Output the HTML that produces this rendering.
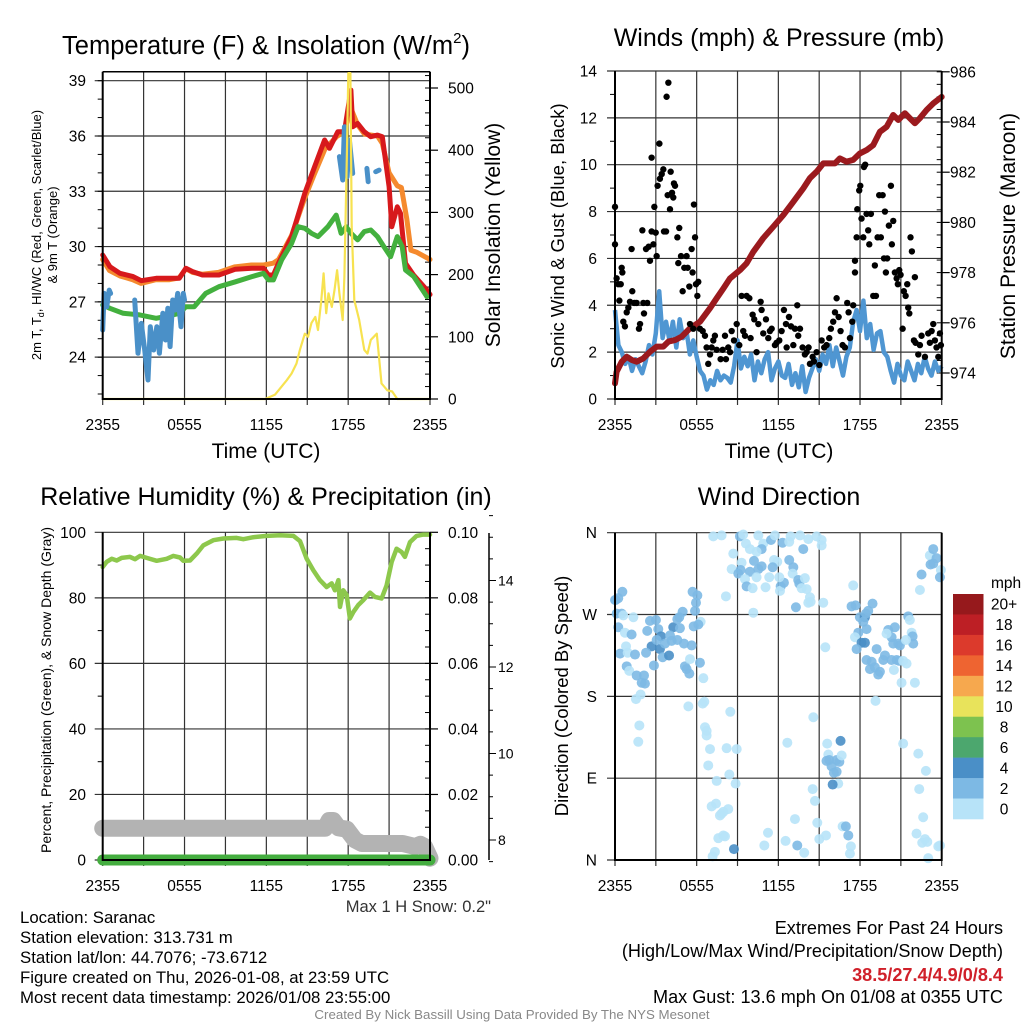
<!DOCTYPE html>
<html><head><meta charset="utf-8">
<style>
html,body{margin:0;padding:0;background:#fff;}
svg{display:block;font-family:"Liberation Sans",Arial,sans-serif;}
</style></head>
<body>
<svg id="fig" width="1024" height="1024" viewBox="0 0 1024 1024" xmlns="http://www.w3.org/2000/svg">
<rect width="1024" height="1024" fill="#fff"/>
<!-- titles -->
<text x="266" y="54" font-size="25.5" text-anchor="middle">Temperature (F) &amp; Insolation (W/m<tspan font-size="15" dy="-11">2</tspan><tspan dy="11">)</tspan></text>
<text x="779" y="46" font-size="25" text-anchor="middle">Winds (mph) &amp; Pressure (mb)</text>
<text x="266" y="505" font-size="25" text-anchor="middle">Relative Humidity (%) &amp; Precipitation (in)</text>
<text x="779" y="505" font-size="25" text-anchor="middle">Wind Direction</text>
<!-- axis titles -->
<text transform="translate(41,235) rotate(-90)" font-size="13" text-anchor="middle">2m T, T<tspan font-size="9" dy="3">d</tspan><tspan dy="-3">, HI/WC (Red, Green, Scarlet/Blue)</tspan></text>
<text transform="translate(57,235) rotate(-90)" font-size="13" text-anchor="middle">&amp; 9m T (Orange)</text>
<text transform="translate(500,235) rotate(-90)" font-size="21" text-anchor="middle">Solar Insolation (Yellow)</text>
<text transform="translate(564,236) rotate(-90)" font-size="18.5" text-anchor="middle">Sonic Wind &amp; Gust (Blue, Black)</text>
<text transform="translate(1015,236) rotate(-90)" font-size="21" text-anchor="middle">Station Pressure (Maroon)</text>
<text transform="translate(51,690) rotate(-90)" font-size="14" text-anchor="middle">Percent, Precipitation (Green), &amp; Snow Depth (Gray)</text>
<text transform="translate(568,696) rotate(-90)" font-size="18.5" text-anchor="middle">Direction (Colored By Speed)</text>
<text x="266" y="458" font-size="21" text-anchor="middle">Time (UTC)</text>
<text x="779" y="458" font-size="21" text-anchor="middle">Time (UTC)</text>
<!-- footer text -->
<text x="491" y="912" font-size="16.5" text-anchor="end" fill="#333">Max 1 H Snow: 0.2"</text>
<g font-size="16.8">
<text x="20" y="923">Location: Saranac</text>
<text x="20" y="943">Station elevation: 313.731 m</text>
<text x="20" y="963">Station lat/lon: 44.7076; -73.6712</text>
<text x="20" y="983">Figure created on Thu, 2026-01-08, at 23:59 UTC</text>
<text x="20" y="1003">Most recent data timestamp: 2026/01/08 23:55:00</text>
</g>
<g font-size="18.1" text-anchor="end">
<text x="1003" y="934">Extremes For Past 24 Hours</text>
<text x="1003" y="957">(High/Low/Max Wind/Precipitation/Snow Depth)</text>
<text x="1003" y="981" fill="#d0202a" font-weight="bold">38.5/27.4/4.9/0/8.4</text>
<text x="1003" y="1003">Max Gust: 13.6 mph On 01/08 at 0355 UTC</text>
</g>
<text x="512" y="1019" font-size="13.3" fill="#888" text-anchor="middle">Created By Nick Bassill Using Data Provided By The NYS Mesonet</text>
</svg>
<script>
// ---------------- DATA ----------------
const xTickHours = [0, 6, 12, 18, 24];
const xTickLabels = ["2355", "0555", "1155", "1755", "2355"];
// Temperature panel
const redTime = [0,.53,1.26,2.23,2.83,3.92,4.89,5.62,6.1,6.59,7.31,8.52,9.73,10.94,11.79,12.15,12.52,12.88,13.85,14.82,15.54,16.27,16.63,17.24,17.72,17.97,18.2,18.33,18.69,19.18,19.66,20.15,20.5,21.0,21.2,21.6,21.84,22.2,22.8,23.78,24];
const redTemp = [29.54,28.91,28.55,28.37,28.15,28.28,28.28,28.28,28.82,28.64,28.46,28.46,28.77,28.82,28.82,28.46,28.46,29.09,30.54,32.89,34.33,35.78,35.33,36.23,36.23,37.41,38.49,36.5,36.68,36.23,35.96,36.05,35.96,33.25,31.08,32.16,31.8,29.09,28.46,27.64,27.4];
const orangeTime = [0,.5,1.3,2.2,2.8,3.9,4.9,5.6,6.1,6.6,7.3,8.5,9.7,10.9,11.8,12.5,12.9,13.85,14.8,15.5,16.3,17.2,17.7,18.2,18.7,19.2,20.15,20.5,21.0,21.6,21.9,22.3,22.6,23.0,24];
const orangeTemp = [29.3,28.7,28.4,28.2,28.0,28.2,28.2,28.3,28.8,28.6,28.5,28.6,28.9,29.0,29.0,29.1,29.3,30.6,32.6,33.9,35.3,36.0,36.2,37.5,36.6,36.1,36.0,35.6,34.0,33.3,33.2,31.5,29.8,29.7,29.3];
const greenTime = [0,.53,1.5,2.71,3.92,5.13,5.62,6.1,6.71,7.55,8.52,9.73,10.94,11.79,12.15,12.52,13.12,13.85,14.33,14.82,15.3,15.79,16.51,17.12,17.48,17.85,18.21,18.69,19.18,19.66,20.15,20.63,21.11,21.6,21.96,22.2,22.81,23.78];
const greenTemp = [26.83,26.65,26.38,26.29,26.11,26.29,26.38,26.74,26.74,27.46,27.82,28.09,28.37,28.55,28.19,28.19,29.27,30.17,31.08,30.99,30.72,30.54,31.08,31.71,30.72,31.08,30.72,30.36,30.81,30.9,30.54,29.99,29.45,30.54,29.99,28.73,28.37,27.28];
const blueTime = [0,.1,.29,.48,.58,null,2.35,2.59,2.83,3.08,3.32,3.49,3.73,3.97,4.16,4.41,4.6,4.77,4.94,5.13,5.33,5.5,5.74,5.91,6.0,null,17.36,17.6,17.72,17.92,18.09,18.33,null,19.37,19.47,null,20.02,20.27];
const blueTemp = [25.47,27.46,26.74,27.64,27.46,null,27.1,24.21,25.83,24.39,22.76,25.65,24.39,25.65,24.21,26.38,24.93,26.65,24.57,27.1,26.56,27.46,25.65,27.46,27.1,null,34.88,33.61,36.5,33.79,35.78,33.97,null,34.24,33.52,null,34.06,34.15];
const solarTime = [0,11.91,12.64,13.12,13.49,13.85,14.21,14.46,14.82,15.06,15.3,15.59,15.79,16.03,16.2,16.39,16.56,16.8,17.0,17.19,17.36,17.6,17.72,17.92,18.01,18.16,18.26,18.45,18.81,19.18,19.42,19.66,20.1,20.44,20.87,21.23,21.6,24];
const solarWm2 = [0,0,7,20,30,41,57,79,105,100,122,132,111,159,202,138,170,148,175,207,170,127,197,411,524,524,277,159,127,79,73,95,105,25,14,12,0,0];
const tempTicks = [24, 27, 30, 33, 36, 39];
const solarTicks = [0, 100, 200, 300, 400, 500];
// Winds panel
const windSpeed = [3.8,2.3,2.0,1.5,1.8,1.2,1.7,1.4,1.1,1.6, 2.3,1.9,2.8,4.6,2.6,3.3,2.5,3.3,2.2,3.4, 2.6,2.9,1.9,2.5,1.8,1.2,1.0,0.4,0.8,0.6, 1.2,0.8,1.0,0.9,0.7,1.4,2.5,1.3,1.8,1.4, 1.9,0.8,1.6,1.1,1.7,2.0,0.8,1.3,1.6,1.0, 0.9,1.5,0.6,1.1,0.5,1.4,0.3,0.9,1.3,1.7, 1.2,1.9,1.5,2.3,1.4,2.2,1.6,1.0,1.8,2.2, 3.3,3.8,2.9,4.2,2.6,3.2,2.1,2.8,2.9,2.0, 1.8,1.2,0.7,1.5,1.0,0.8,1.6,1.2,0.8,1.5, 1.1,1.8,1.3,1.0,1.6,1.2,1.4];
const windStepHours = 0.25;
const gustTime = [0,0,.12,.24,.42,.49,.54,.32,.61,.73,.86,.98,1.1,1.22,1.27,1.42,1.59,1.76,1.84,2.01,2.08,2.13,2.28,2.37,2.47,2.57,2.69,2.69,2.82,2.89,2.99,3.06,3.13,3.26,3.3,3.43,3.55,3.6,3.75,3.79,3.92,3.87,4.09,4.04,4.19,4.28,4.33,4.41,4.58,4.72,4.65,4.85,4.97,5.09,5.26,5.34,5.46,5.63,5.7,5.8,5.88,5.95,6.05,6.12,5.51,5.75,6.24,6.44,6.61,6.73,6.85,6.98,7.1,7.22,7.34,7.47,7.76,7.91,8.08,8.15,8.32,8.45,8.57,8.74,8.94,9.13,9.3,9.42,9.55,9.67,9.87,9.96,10.11,10.23,10.4,10.53,10.7,10.77,10.89,11.09,11.26,11.38,11.51,11.75,11.87,12.07,12.24,12.41,12.56,12.61,12.78,12.93,13.1,13.22,13.39,13.46,13.59,13.78,13.95,14.08,14.22,14.32,14.52,14.61,14.81,15.01,15.18,15.37,15.54,15.74,15.86,16.03,16.16,16.28,16.43,16.57,16.72,16.89,17.06,17.16,17.26,17.43,17.5,17.63,17.63,17.75,17.8,17.94,18.02,18.11,18.24,18.29,18.38,18.48,18.6,18.68,18.8,18.97,19.09,19.17,19.29,19.41,19.53,19.66,19.76,19.83,19.9,20.0,20.12,20.27,20.34,20.44,20.56,20.69,20.78,20.88,20.98,21.13,21.22,21.35,21.47,21.54,21.62,21.71,21.81,22.03,21.96,22.08,22.28,22.4,22.52,22.77,23.01,23.13,23.26,23.38,23.5,23.62,23.75,23.87,23.94];
const gustSpeed = [8.2,6.6,5.15,4.9,4.9,5.6,5.4,4.2,3.3,3.1,3.7,3.9,4.15,6.4,4.6,4.1,4.1,3.0,3.2,7.2,4.1,3.65,6.4,4.1,6.5,5.9,10.3,7.15,6.6,8.2,7.1,6.1,9.1,10.9,9.4,9.6,9.8,7.15,7.15,12.9,13.5,8.7,9.7,8.1,8.8,8.6,9.2,9.1,6.9,7.3,5.8,6.1,4.6,5.6,6.1,5.6,4.8,6.4,5.4,8.3,6.9,4.9,4.4,5.0,3.2,3.0,3.0,2.9,2.7,2.2,1.5,1.9,2.2,2.5,2.7,2.1,1.7,2.1,2.7,1.7,2.2,2.0,2.9,2.5,3.2,2.3,4.4,2.9,2.7,4.4,4.3,2.6,3.6,3.4,2.0,3.2,4.15,3.8,2.8,3.4,2.6,2.9,3.0,2.3,2.4,2.5,2.9,3.8,3.2,2.2,3.5,3.1,2.3,3.0,4.0,2.7,3.0,2.2,1.9,2.0,2.2,1.5,1.8,1.6,2.0,1.45,2.5,2.2,2.3,2.6,3.0,3.3,3.7,4.3,3.5,2.9,2.3,2.2,4.1,3.7,2.6,3.3,4.0,5.4,5.9,6.9,8.1,8.9,9.1,7.7,6.9,9.9,10.0,7.9,7.2,6.6,7.9,4.4,5.7,4.4,6.9,8.7,6.9,8.7,6.0,8.0,5.4,6.0,7.4,9.1,6.6,7.6,5.4,5.15,4.9,5.5,5.3,3.0,4.6,4.4,4.9,3.9,3.65,6.9,6.3,5.2,2.5,2.4,1.9,2.3,2.7,1.8,2.8,2.4,2.9,3.2,2.5,2.2,1.8,2.8,2.3];
const pressTime = [0,.12,.49,.86,1.22,1.59,2.08,2.57,3.06,3.55,3.92,4.41,4.9,5.51,6.24,6.98,7.47,7.96,8.45,9.18,9.67,10.16,10.89,11.63,12.36,13.1,13.83,14.32,14.81,15.3,15.79,16.16,16.52,17.01,17.5,17.99,18.48,18.97,19.46,19.95,20.44,20.81,21.3,21.66,22.03,22.4,22.89,23.38,24];
const pressMb = [973.59,974.05,974.45,974.65,974.52,974.45,974.58,974.85,975.05,975.05,975.25,975.31,975.45,975.78,976.04,976.58,976.98,977.37,977.77,978.1,978.37,978.83,979.37,979.83,980.29,980.82,981.36,981.76,982.02,982.35,982.35,982.35,982.55,982.42,982.49,982.75,982.88,983.08,983.61,983.81,984.28,984.08,984.35,984.15,983.95,984.15,984.48,984.74,985.0];
const windTicks = [0, 2, 4, 6, 8, 10, 12, 14];
const pressTicks = [974, 976, 978, 980, 982, 984, 986];
// Humidity panel
const rhTime = [0,.29,.66,1.03,1.39,2.0,2.37,2.74,3.23,3.96,4.69,5.18,5.67,5.91,6.4,6.89,7.38,8.11,8.85,9.82,10.31,11.05,12.02,13.0,13.98,14.47,14.96,15.44,15.93,16.42,16.79,17.03,17.28,17.4,17.64,17.89,18.13,18.38,18.74,19.11,19.6,19.97,20.45,20.82,21.19,21.55,21.92,22.16,22.53,23.02,23.51,24];
const rhPct = [89.4,91.0,91.9,91.4,92.2,92.5,91.8,92.8,92.2,91.3,91.9,92.8,92.3,91.3,91.4,93.5,96.0,97.6,98.1,98.3,97.9,98.5,98.9,99.1,98.9,97.3,91.9,88.4,85.4,83.3,84.4,82.3,85.4,77.2,82.3,80.8,73.7,75.7,77.8,79.3,81.6,80.3,79.8,83.8,91.0,95.0,94.0,92.5,97.0,98.9,99.3,99.3];
const precipTime = [0, 24];
const precipIn = [0, 0];
const snowTime = [0,16.3,16.6,16.9,17.3,17.9,18.5,19.0,22.0,22.9,23.3,23.6,24];
const snowIn = [8.27,8.27,8.45,8.45,8.28,8.25,8.0,7.92,7.92,7.85,7.9,7.85,7.58];
const rhTicks = [0, 20, 40, 60, 80, 100];
const precipTicks = [0, 0.02, 0.04, 0.06, 0.08, 0.10];
const snowTicks = [8, 10, 12, 14];
// Wind direction panel
const dirTime = [0,.05,.24,.54,.12,.49,.61,1.35,.24,.73, 1.22,.81,.37,.93,1.47,.86,1.05,1.59,2.13,1.96, 2.2,1.54,1.88,1.79,1.71,2.57,3.01,2.37,3.18,3.38, 2.69,3.06,3.3,3.67,3.5,3.97,4.28,4.04,4.58,4.72, 4.97,4.77,4.58,5.07,4.16,2.86,2.28,5.14,5.26,5.46, 5.51,5.63,5.7,6.05,5.95,5.88,6.29,6.12,5.78,6.24, 6.49,5.39,
 7.22,7.83,8.69,9.18,9.42,9.62,9.91,10.53,10.89,10.77, 10.4,11.46,11.75,12.31,12.8,12.9,13.59,14.2,13.83,14.81, 15.18,15.18,11.68,11.92,12.8,13.1,13.05,13.46,13.54,13.95, 14.08,13.71,14.32,14.2,14.37,13.29,12.17,12.12,12.41,12.07, 11.58,10.77,10.53,9.91,10.21,9.3,8.57,9.06,9.23,9.55, 9.67,10.11,10.4,11.06,11.33,10.16,8.15,15.3,
 6.44,6.56,6.61,6.73,6.73,6.98,6.85,7.47,7.1,7.42, 7.83,7.96,7.71,8.32,7.59,7.96,8.08,7.17,7.34,8.2, 8.4,8.94,8.86,8.47,8.74,10.97,11.24,12.53,12.66,13.22, 13.39,13.9,14.57,14.52,14.69,14.86,15.01,15.5,15.45,15.59, 15.67,15.74,15.91,16.08,16.28,16.48,16.57,16.65,16.28,16.4, 15.99,16.72,16.96,17.14,17.33,17.26,15.54,
 17.5,17.38,17.67,17.99,18.36,18.43,18.6,18.92,18.24,18.48, 17.87,17.63,18.11,18.36,17.75,19.22,18.48,18.85,18.73,19.09, 19.34,19.46,19.71,19.83,20.07,20.32,20.56,19.95,20.44,20.81, 20.93,20.69,20.88,20.32,20.49,21.17,21.42,21.05,22.03,21.54, 21.66,21.79,21.86,21.91,21.37,19.14,21.17,22.28,22.84,22.35, 22.64,22.15,22.57,22.77,22.94,23.01,23.75,23.87,22.4,22.52, 23.13,23.38,23.62,23.18,23.38,23.94,23.87];
const dirDeg = [286,286,288,295,271,271,269,267,256,250, 248,235,227,228,226,213,208,203,203,195, 194,177,182,148,130,263,264,252,254,246, 235,242,232,238,223,225,256,247,265,267, 273,255,242,238,241,214,228,213,210,205, 221,236,295,291,283,274,262,259,257,217, 200,169,
 356,357,337,356,358,348,342,357,348,342, 339,352,357,349,350,356,357,353,342,356, 352,346,330,328,330,322,315,308,304,310, 298,299,289,283,284,278,301,296,305,311, 322,323,320,317,329,327,320,315,319,309, 301,299,311,300,311,272,290,283,
 172,174,146,142,137,122,104,87,59,62, 51,53,49,56,24,27,26,4,9,123, 94,122,84,163,12,16,30,21,129,45, 16,8,157,78,65,41,23,27,234,128, 116,110,103,96,110,108,131,115,97,84, 83,37,37,27,15,7,109,
 302,279,280,267,267,271,274,282,262,254, 250,245,239,239,232,232,220,218,210,212, 204,207,220,225,253,245,256,249,238,238, 236,220,219,220,209,219,216,195,195,268, 264,250,246,238,242,175,128,117,98,78, 47,29,19,23,20,2,15,16,297,314, 335,342,332,325,326,319,311];
const dirSpeed = [3,3,3,3,3,3,1,1,3,1, 3,1,3,1,3,3,1,3,3,3, 3,1,1,1,1,3,3,3,3,5, 5,3,5,3,3,5,5,3,3,3, 3,3,3,3,3,3,3,3,3,3, 1,3,3,3,3,3,1,3,3,3, 1,1,
 1,1,1,3,1,1,1,1,1,3, 1,3,1,3,1,1,1,1,3,1, 1,1,1,1,3,3,1,3,3,1, 1,1,1,1,1,3,3,1,3,1, 3,3,3,3,3,1,1,3,3,1, 3,1,1,1,1,1,1,1,
 1,1,1,1,1,1,1,1,1,1, 1,1,1,1,1,1,1,1,1,1, 1,1,1,1,5,1,1,1,1,1, 3,1,1,1,1,1,1,1,1,1, 1,3,3,3,3,3,5,1,3,1, 5,1,3,3,1,1,3,
 1,3,3,3,5,3,3,3,3,3, 3,1,5,5,3,3,3,3,3,3, 3,3,3,3,3,3,3,1,3,3, 3,3,3,3,1,1,1,1,1,3, 1,1,3,3,1,1,1,1,1,1, 1,1,1,1,1,1,1,1,1,3, 1,3,3,3,3,1,3];
const dirTicks = [0, 90, 180, 270, 360];
const dirLabels = ["N", "E", "S", "W", "N"];
const cbarLabels = ["20+", "18", "16", "14", "12", "10", "8", "6", "4", "2", "0"];
const cbarColors = ["#96191c", "#bd1f25", "#dc3a2c", "#ee6431", "#f6a84e", "#e8e35b", "#7dc24f", "#4ca76e", "#4a8fc7", "#7db9e4", "#b7e3f8"];

// ---------------- SCALES ----------------
const svg = document.getElementById('fig');
const NS = 'http://www.w3.org/2000/svg';
const L = {tx0: 102.7, tx1: 430, wx0: 615, wx1: 941.7};
const xT = h => L.tx0 + h * (L.tx1 - L.tx0) / 24;
const xW = h => L.wx0 + h * (L.wx1 - L.wx0) / 24;
const yTemp = v => 80.7 + (39 - v) * 18.43;
const ySolar = w => 399 - w * 0.622;
const yWind = v => 399 - v * 23.43;
const yPress = p => 373 - (p - 974) * 25.1;
const yRH = v => 860 - v * 3.277;
const yPrecip = v => 860 - v * 3277;
const ySnow = s => 840 - (s - 8) * 43.25;
const yDir = d => 860 - d * 327.3 / 360;
function mk(tag, attrs, parent) {
  const el = document.createElementNS(NS, tag);
  for (const k in attrs) el.setAttribute(k, attrs[k]);
  (parent || svg).appendChild(el);
  return el;
}
function pathFrom(ts, vs, fx, fy) {
  let d = '', pen = false;
  for (let i = 0; i < Math.min(ts.length, vs.length); i++) {
    if (ts[i] === null || vs[i] === null) { pen = false; continue; }
    d += (pen ? 'L' : 'M') + fx(ts[i]).toFixed(1) + ',' + fy(vs[i]).toFixed(1);
    pen = true;
  }
  return d;
}
function gridAndFrame(name, x0, x1, y0, y1, fx, fy, yTicks, xLabelY) {
  const g = mk('g', {});
  
  
  for (let h = 0; h <= 24; h += 3) {
    const ln = mk('line', {x1: fx(h), x2: fx(h), y1: y0, y2: y1 + 6, stroke: '#333', 'stroke-width': 1.2}, g);
    
    
  }
  yTicks.forEach(t => {
    const ln = mk('line', {x1: x0 - 8, x2: x1, y1: fy(t), y2: fy(t), stroke: '#333', 'stroke-width': 1.2}, g);
    
    
  });
  xTickHours.forEach((h, i) => {
    const tx = mk('text', {x: fx(h), y: xLabelY, 'font-size': 15.5, 'text-anchor': 'middle'});
    tx.textContent = xTickLabels[i];
    
    
  });
}
function frame(name, x0, x1, y0, y1) {
  const r = mk('path', {d: `M${x0},${y0}V${y1}H${x1}V${y0}`, fill: 'none', stroke: '#000', 'stroke-width': 2});
  
  
}

// ============ TEMPERATURE PANEL ============
gridAndFrame('temperature', L.tx0, L.tx1, 71.7, 399, xT, yTemp, tempTicks, 430);
const topLine = mk('line', {x1: L.tx0, x2: L.tx1, y1: 71.7, y2: 71.7, stroke: '#000', 'stroke-width': 1.5});


tempTicks.forEach(t => {
  const tx = mk('text', {x: 86, y: yTemp(t) + 5.5, 'font-size': 15.5, 'text-anchor': 'end'});
  tx.textContent = t;
  
  
});
for (let t = 22; t <= 39; t++) {
  const m = mk('line', {x1: L.tx0 - 5, x2: L.tx0, y1: yTemp(t), y2: yTemp(t), stroke: '#000'});
  
  
}
solarTicks.forEach(t => {
  const tk = mk('line', {x1: L.tx1, x2: L.tx1 + 8, y1: ySolar(t), y2: ySolar(t), stroke: '#000', 'stroke-width': 1.2});
  
  
  const tx = mk('text', {x: 448, y: ySolar(t) + 5.5, 'font-size': 15.5});
  tx.textContent = t;
  
  
});
for (let w = 20; w <= 520; w += 20) {
  const m = mk('line', {x1: L.tx1 - 5, x2: L.tx1, y1: ySolar(w), y2: ySolar(w), stroke: '#000'});
  
  
}
let p;
p = mk('path', {d: pathFrom(orangeTime, orangeTemp, xT, yTemp), fill: 'none', stroke: '#f58a2e', 'stroke-width': 5, 'stroke-linejoin': 'round', 'stroke-linecap': 'round'});


p = mk('path', {d: pathFrom(redTime, redTemp, xT, yTemp), fill: 'none', stroke: '#d7191c', 'stroke-width': 5, 'stroke-linejoin': 'round', 'stroke-linecap': 'round'});


p = mk('path', {d: pathFrom(greenTime, greenTemp, xT, yTemp), fill: 'none', stroke: '#43b03e', 'stroke-width': 5, 'stroke-linejoin': 'round', 'stroke-linecap': 'round'});


p = mk('path', {d: pathFrom(blueTime, blueTemp, xT, yTemp), fill: 'none', stroke: '#4a90c8', 'stroke-width': 5, 'stroke-linejoin': 'round', 'stroke-linecap': 'round'});


p = mk('path', {d: pathFrom(solarTime, solarWm2, xT, ySolar), fill: 'none', stroke: '#f7e250', 'stroke-width': 2.2, 'stroke-linejoin': 'round'});


frame('temperature', L.tx0, L.tx1, 71.7, 399);

// ============ WINDS PANEL ============
gridAndFrame('winds', L.wx0, L.wx1, 71, 399, xW, yWind, windTicks, 430);
windTicks.forEach(t => {
  const tx = mk('text', {x: 597, y: yWind(t) + 5.5, 'font-size': 15.5, 'text-anchor': 'end'});
  tx.textContent = t;
  
  
});
for (let v = 1; v <= 13; v += 2) {
  const m = mk('line', {x1: L.wx0 - 5, x2: L.wx0, y1: yWind(v), y2: yWind(v), stroke: '#000'});
  
  
}
pressTicks.forEach(t => {
  const tk = mk('line', {x1: L.wx1, x2: L.wx1 + 8, y1: yPress(t), y2: yPress(t), stroke: '#000', 'stroke-width': 1.2});
  
  
  const tx = mk('text', {x: 950, y: yPress(t) + 5.5, 'font-size': 15.5});
  tx.textContent = t;
  
  
});
for (let pm = 973.5; pm <= 986; pm += 0.5) {
  const m = mk('line', {x1: L.wx1 - 5, x2: L.wx1, y1: yPress(pm), y2: yPress(pm), stroke: '#000'});
  
  
}
const windTime = windSpeed.map((_, i) => i * windStepHours);
p = mk('path', {d: pathFrom(windTime, windSpeed, xW, yWind), fill: 'none', stroke: '#4f96d2', 'stroke-width': 4.5, 'stroke-linejoin': 'round'});


p = mk('path', {d: pathFrom(pressTime, pressMb, xW, yPress), fill: 'none', stroke: '#9b1a1e', 'stroke-width': 6, 'stroke-linejoin': 'round', 'stroke-linecap': 'round'});


const gustG = mk('g', {fill: '#000'});


for (let i = 0; i < Math.min(gustTime.length, gustSpeed.length); i++) {
  const c = mk('circle', {cx: xW(gustTime[i]), cy: yWind(gustSpeed[i]), r: 3.2}, gustG);
  
  
}
frame('winds', L.wx0, L.wx1, 71, 399);

// ============ HUMIDITY PANEL ============
gridAndFrame('humidity', L.tx0, L.tx1, 532.3, 860, xT, yRH, rhTicks, 891);
rhTicks.forEach(t => {
  const tx = mk('text', {x: 86, y: yRH(t) + 5.5, 'font-size': 15.5, 'text-anchor': 'end'});
  tx.textContent = t;
  
  
});
for (let v = 10; v <= 90; v += 20) {
  const m = mk('line', {x1: L.tx0 - 5, x2: L.tx0, y1: yRH(v), y2: yRH(v), stroke: '#000'});
  
  
}
precipTicks.forEach(t => {
  const tk = mk('line', {x1: L.tx1, x2: L.tx1 + 8, y1: yPrecip(t), y2: yPrecip(t), stroke: '#000', 'stroke-width': 1.2});
  
  
  const tx = mk('text', {x: 448, y: yPrecip(t) + 5.5, 'font-size': 15.5});
  tx.textContent = t.toFixed(2);
  
  
});
for (let v = 0.005; v < 0.1; v += 0.005) {
  const m = mk('line', {x1: L.tx1 - 5, x2: L.tx1, y1: yPrecip(v), y2: yPrecip(v), stroke: '#000'});
  
  
}
// snow axis
const sa = mk('line', {x1: 489, x2: 489, y1: 533, y2: 860, stroke: '#000', 'stroke-width': 1.5});


for (let s = 7.5; s <= 15.5; s += 0.5) {
  const major = Math.abs(s - Math.round(s / 2) * 2) < 0.01;
  const m = mk('line', {x1: 489, x2: 489 + (major ? 7 : 4), y1: ySnow(s), y2: ySnow(s), stroke: '#000'});
  
  
}
snowTicks.forEach(t => {
  const tx = mk('text', {x: 498, y: ySnow(t) + 5, 'font-size': 14});
  tx.textContent = t;
  
  
});
p = mk('path', {d: pathFrom(snowTime, snowIn, xT, ySnow), fill: 'none', stroke: '#b3b3b3', 'stroke-width': 17, 'stroke-linejoin': 'round', 'stroke-linecap': 'round'});


p = mk('path', {d: pathFrom(precipTime, precipIn, xT, yPrecip), fill: 'none', stroke: '#44ad3f', 'stroke-width': 11, 'stroke-linecap': 'round'});


p = mk('path', {d: pathFrom(rhTime, rhPct, xT, yRH), fill: 'none', stroke: '#8dc84c', 'stroke-width': 4.5, 'stroke-linejoin': 'round', 'stroke-linecap': 'round'});


frame('humidity', L.tx0, L.tx1, 532.3, 860);

// ============ WIND DIRECTION PANEL ============
gridAndFrame('direction', L.wx0, L.wx1, 532.7, 860, xW, yDir, dirTicks, 891);
dirTicks.forEach((t, i) => {
  const tx = mk('text', {x: 597, y: yDir(t) + 5.5, 'font-size': 15.5, 'text-anchor': 'end'});
  tx.textContent = dirLabels[i];
  
  
});
function speedColor(s) {
  const idx = Math.min(10, Math.floor(s / 2));
  return cbarColors[10 - idx];
}
const dirG = mk('g', {});


const nDir = Math.min(dirTime.length, dirDeg.length, dirSpeed.length);
for (let i = 0; i < nDir; i++) {
  const c = mk('circle', {cx: xW(dirTime[i]), cy: yDir(dirDeg[i]), r: 5, fill: speedColor(dirSpeed[i]), 'fill-opacity': 0.9}, dirG);
  
  
}
frame('direction', L.wx0, L.wx1, 532.7, 860);
// colorbar
const cbG = mk('g', {});


const cbTop = 594, cbH = 225 / cbarColors.length;
cbarColors.forEach((c, i) => {
  const r = mk('rect', {x: 953, y: cbTop + i * cbH, width: 30.5, height: cbH + 0.3, fill: c}, cbG);
  
  
  const tx = mk('text', {x: 1004, y: cbTop + i * cbH + cbH / 2 + 5.5, 'font-size': 15.5, 'text-anchor': 'middle'}, cbG);
  tx.textContent = cbarLabels[i];
  
  
});
const mph = mk('text', {x: 991, y: 588, 'font-size': 15.5}, cbG);
mph.textContent = 'mph';


</script>
</body></html>
